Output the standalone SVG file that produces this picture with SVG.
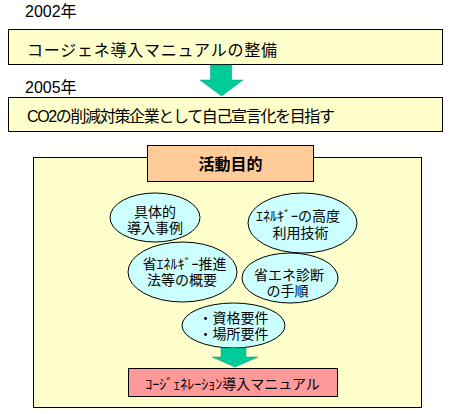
<svg xmlns="http://www.w3.org/2000/svg" width="450" height="414" viewBox="0 0 450 414">
<style>
text{font-family:"Liberation Sans","Noto Sans CJK JP",sans-serif;fill:#000}
.box{fill:#FFFFCC;stroke:#000;stroke-width:1}
.ell{fill:#CCFFFF;stroke:#000;stroke-width:1}
.arr{fill:#00CC99;stroke:#009977;stroke-width:0.5}
.t16{font-size:16px}
.t14{font-size:14px;text-anchor:middle}
</style>
<rect width="450" height="414" fill="#fff"/>
<g id="year2002"><text class="t16" x="25" y="17">2002年</text></g>
<g id="box1">
<rect class="box" x="8.5" y="29.5" width="434" height="35"/>
<text class="t16" x="27" y="56" textLength="250" lengthAdjust="spacing">コージェネ導入マニュアルの整備</text>
</g>
<g id="year2005"><text class="t16" x="25" y="93">2005年</text></g>
<g id="box2">
<rect class="box" x="8.5" y="97.5" width="434" height="34"/>
<text class="t16" x="27" y="122" textLength="308" lengthAdjust="spacing">CO2の削減対策企業として自己宣言化を目指す</text>
</g>
<g id="activity">
<rect class="box" x="33.5" y="157.5" width="388" height="250"/>
</g>
<g id="title">
<rect x="147.5" y="145.5" width="166" height="36" fill="#FFCC99" stroke="#000"/>
<text x="230.5" y="170" font-size="16" font-weight="bold" text-anchor="middle">活動目的</text>
</g>
<g id="e1">
<ellipse class="ell" cx="155" cy="217.5" rx="45" ry="24.5"/>
<text class="t14" x="155" y="217">具体的</text>
<text class="t14" x="155" y="233">導入事例</text>
</g>
<g id="e2">
<ellipse class="ell" cx="302.5" cy="223" rx="54.5" ry="30"/>
<text class="t14" x="298" y="221">ｴﾈﾙｷﾞｰの高度</text>
<text class="t14" x="300.5" y="238">利用技術</text>
</g>
<g id="e3">
<ellipse class="ell" cx="182.5" cy="272" rx="54.5" ry="30"/>
<text class="t14" x="184.5" y="269">省ｴﾈﾙｷﾞｰ推進</text>
<text class="t14" x="182" y="285">法等の概要</text>
</g>
<g id="e4">
<ellipse class="ell" cx="290" cy="278" rx="48" ry="25"/>
<text class="t14" x="289" y="280">省エネ診断</text>
<text class="t14" x="287.5" y="296">の手順</text>
</g>
<g id="e5">
<ellipse class="ell" cx="233.5" cy="325.5" rx="51.5" ry="22.5"/>
<text class="t14" x="233.5" y="323">・資格要件</text>
<text class="t14" x="233.5" y="339">・場所要件</text>
</g>
<g id="manual">
<rect x="128.5" y="368.5" width="209" height="28" fill="#FF9999" stroke="#000"/>
<text class="t14" x="232.5" y="389">ｺｰｼﾞｪﾈﾚｰｼｮﾝ導入マニュアル</text>
</g>
<g id="connectors">
<polygon class="arr" points="210.5,65 231.5,65 231.5,80 243,80 221.5,96 200,80 210.5,80"/>
<polygon class="arr" points="221,348 246,348 246,357 258,357 235,367 212,357 221,357"/>
</g>
</svg>
